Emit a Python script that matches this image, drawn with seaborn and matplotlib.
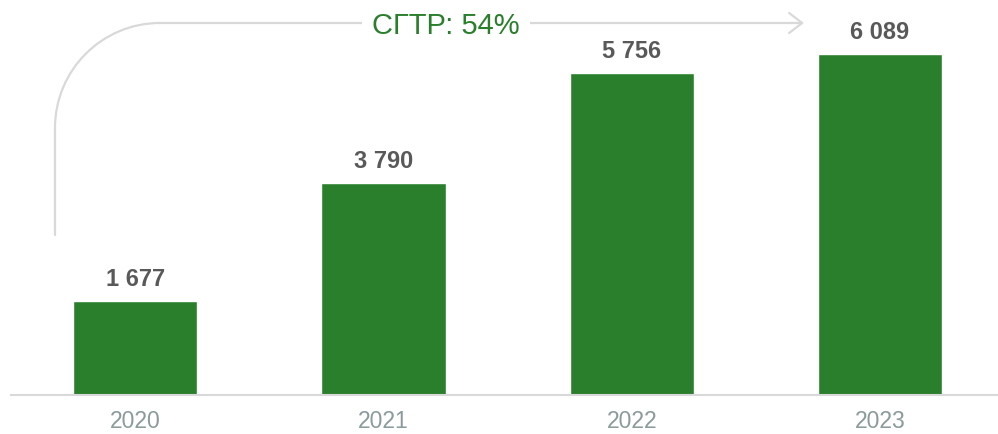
import matplotlib
matplotlib.use("Agg")
import matplotlib.pyplot as plt
from matplotlib.path import Path
from matplotlib.patches import FancyArrowPatch
import seaborn as sns
import pandas as pd

years = ["2020", "2021", "2022", "2023"]
values = [1677, 3790, 5756, 6089]
cagr_label = "СГТР: 54%"

BAR_COLOR = "#2a7f2c"
LABEL_COLOR = "#595959"
TICK_COLOR = "#8b9a9a"
LINE_COLOR = "#d9d9d9"

sns.set_theme(style="white")
plt.rcParams["font.family"] = ["Liberation Sans", "DejaVu Sans"]

df = pd.DataFrame({"year": years, "value": values})

W, H = 998, 435
fig = plt.figure(figsize=(W / 100, H / 100), dpi=100)
ax = fig.add_axes([11 / W, 39 / H, 987 / W, 396 / H])

sns.barplot(data=df, x="year", y="value", color=BAR_COLOR, width=0.5,
            saturation=1, ax=ax)

ax.set_xlim(-0.5, 3.475)
ax.set_ylim(0, 7080)
ax.set_xlabel("")
ax.set_ylabel("")
ax.set_yticks([])
for s in ["left", "right", "top"]:
    ax.spines[s].set_visible(False)
ax.spines["bottom"].set_color(LINE_COLOR)
ax.spines["bottom"].set_linewidth(1.5)
ax.tick_params(axis="x", length=0, pad=10, labelsize=16.5, labelcolor=TICK_COLOR)

for c in ax.containers:
    ax.bar_label(c, labels=[f"{v:,}".replace(",", " ") for v in values],
                 padding=8, fontsize=17, fontweight="bold", color=LABEL_COLOR)

# CAGR arrow: vertical line, rounded corner, horizontal line with arrowhead
x0, yb, yt, r, xe = 55, 236, 24, 105, 804
k = 0.5523 * r
pts = [(x0, yb), (x0, yt + r), (x0, yt + r - k), (x0 + r - k, yt),
       (x0 + r, yt), (xe, yt)]
codes = [Path.MOVETO, Path.LINETO, Path.CURVE4, Path.CURVE4, Path.CURVE4,
         Path.LINETO]
verts = [(px / W, (H - py) / H) for px, py in pts]
arrow = FancyArrowPatch(path=Path(verts, codes),
                        arrowstyle="->,head_length=0.47,head_width=0.36",
                        mutation_scale=20, color=LINE_COLOR, lw=1.6,
                        transform=fig.transFigure)
fig.add_artist(arrow)

fig.text(446 / W, (H - 26) / H, cagr_label, ha="center", va="center",
         fontsize=21, color=BAR_COLOR,
         bbox=dict(boxstyle="square,pad=0.35", fc="white", ec="none"))

fig.savefig("out.png", dpi=100, facecolor="white")
